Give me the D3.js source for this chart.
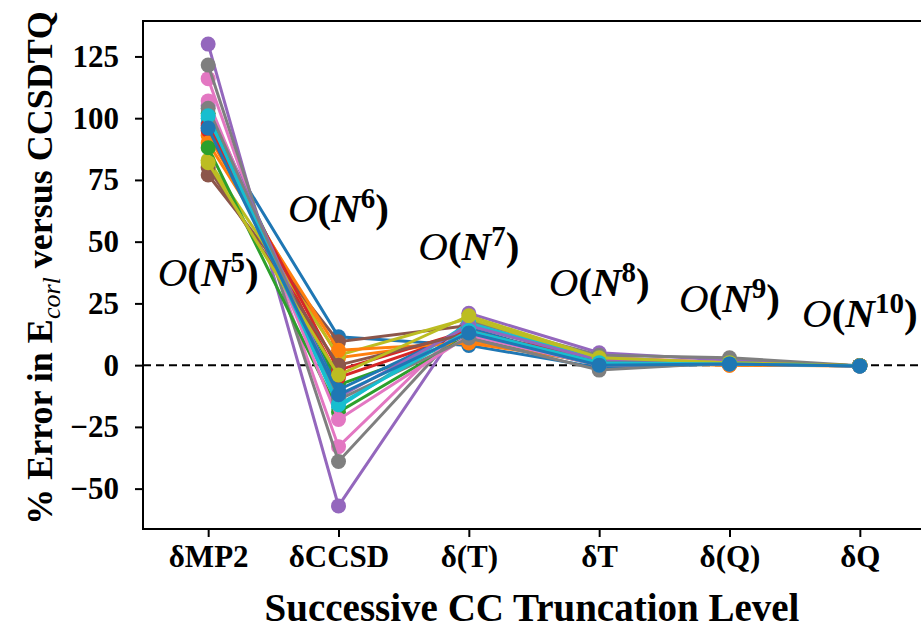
<!DOCTYPE html>
<html>
<head>
<meta charset="utf-8">
<script src="https://cdn.jsdelivr.net/npm/d3@7"></script>
<style>
  body { margin: 0; background: #fff; }
  text { font-family: "Liberation Serif", "Times New Roman", serif; }
</style>
</head>
<body>
<svg id="chart"></svg>
<script>
const outerWidth = 921;
const outerHeight = 628;

// truncation levels on the x axis
const levels = ["δMP2", "δCCSD", "δ(T)", "δT", "δ(Q)", "δQ"];
const yTicks = [-50, -25, 0, 25, 50, 75, 100, 125];

// one series per molecule, values are % error
const s00 = [98, 11.5, 8, -1, 0.5, -0.3];
const s01 = [93, 3, 10, 2, 0, -0.2];
const s02 = [102, -8, 11, 1, 0.5, -0.2];
const s03 = [95, -5, 13, 3, 1, -0.2];
const s04 = [130, -57, 21, 5, 2, -0.3];
const s05 = [77, 9.5, 16, 2, 1, -0.2];
const s06 = [116, -33, 18, 3, 1, -0.3];
const s07 = [121.5, -39, 18, 4, 3, -0.2];
const s08 = [83, 4, 19, 2, 1, -0.2];
const s09 = [100, -17, 17, 2, 1, -0.3];
const s10 = [96, -10, 15, 0, 0.5, -0.3];
const s11 = [90, 6, 9, 1, 0, -0.3];
const s12 = [88, -19, 12, 0, 1, -0.2];
const s13 = [97, -2, 14, 1, 0.5, -0.2];
const s14 = [105, -13, 16, 2, 1, -0.3];
const s15 = [80, 0, 13, 1, 0.5, -0.2];
const s16 = [107, -22, 12, 0, 0.5, -0.3];
const s17 = [104, -14, 11, -2, 1, -0.2];
const s18 = [82, -4, 20, 3, 1, -0.2];
const s19 = [101, -16, 14, 1, 0.5, -0.3];
const s20 = [96, -12, 13, 0, 0.5, -0.3];
const series = [s00, s01, s02, s03, s04, s05, s06, s07, s08, s09, s10,
                s11, s12, s13, s14, s15, s16, s17, s18, s19, s20];

// scaling exponents written above each level
const orders = ["5", "6", "7", "8", "9", "10"];
const orderY = [286, 222, 260, 296, 312, 327];

const colors = d3.schemeCategory10;

const svg = d3.select("#chart")
  .attr("width", outerWidth)
  .attr("height", outerHeight);

const x = d3.scaleLinear().domain([-0.5, 5.5]).range([143, 925]);
const y = d3.scaleLinear().domain([-66.35, 139.35]).range([529, 21]);

// frame
svg.append("rect")
  .attr("x", x(-0.5)).attr("y", y(139.35))
  .attr("width", x(5.5) - x(-0.5)).attr("height", y(-66.35) - y(139.35))
  .attr("fill", "none").attr("stroke", "black").attr("stroke-width", 2);

const yAxis = svg.append("g")
  .attr("transform", "translate(" + x(-0.5) + ",0)")
  .call(d3.axisLeft(y).tickValues(yTicks).tickSize(8).tickPadding(16)
    .tickFormat(d => d < 0 ? "\u2212" + Math.abs(d) : d));
yAxis.select(".domain").remove();

const xAxis = svg.append("g")
  .attr("transform", "translate(0," + y(-66.35) + ")")
  .call(d3.axisBottom(x).tickValues(d3.range(levels.length)).tickSize(8).tickPadding(8)
    .tickFormat(i => levels[i]));
xAxis.select(".domain").remove();

svg.selectAll(".tick line").attr("stroke", "black").attr("stroke-width", 2);
svg.selectAll(".tick text")
  .attr("font-family", "Liberation Serif").attr("font-weight", "bold")
  .attr("font-size", 31).attr("fill", "black");

// zero reference
svg.append("line")
  .attr("x1", x(-0.5)).attr("x2", x(5.5))
  .attr("y1", y(0)).attr("y2", y(0))
  .attr("stroke", "black").attr("stroke-width", 2)
  .attr("stroke-dasharray", "8,5");

const line = d3.line().x((d, i) => x(i)).y(d => y(d));

const g = svg.append("g");
series.forEach(function (s, k) {
  const c = colors[k % 10];
  const sg = g.append("g");
  sg.append("path").datum(s).attr("d", line)
    .attr("fill", "none").attr("stroke", c).attr("stroke-width", 3);
  sg.selectAll("circle").data(s).enter().append("circle")
    .attr("cx", (d, i) => x(i)).attr("cy", d => y(d))
    .attr("r", 7.5).attr("fill", c);
});

// complexity annotations
orders.forEach(function (o, i) {
  const t = svg.append("text")
    .attr("x", x(i)).attr("y", orderY[i])
    .attr("text-anchor", "middle")
    .attr("font-size", 41).attr("fill", "black");
  t.append("tspan").attr("font-style", "italic").text("O");
  t.append("tspan").attr("font-weight", "bold").text("(");
  t.append("tspan").attr("font-weight", "bold").attr("font-style", "italic").text("N");
  t.append("tspan").attr("font-weight", "bold").attr("font-size", 29).attr("dy", -14).text(o);
  t.append("tspan").attr("font-weight", "bold").attr("dy", 14).text(")");
});

// axis titles
svg.append("text")
  .attr("x", 532).attr("y", 621)
  .attr("text-anchor", "middle")
  .attr("font-weight", "bold").attr("font-size", 39)
  .text("Successive CC Truncation Level");

const yl = svg.append("text")
  .attr("transform", "translate(52,268) rotate(-90)")
  .attr("text-anchor", "middle")
  .attr("font-weight", "bold").attr("font-size", 36);
yl.append("tspan").text("% Error in E");
yl.append("tspan").attr("font-weight", "normal").attr("font-style", "italic")
  .attr("font-size", 26).attr("dy", 8).text("corl");
yl.append("tspan").attr("dy", -8).text(" versus CCSDTQ");
</script>
</body>
</html>
